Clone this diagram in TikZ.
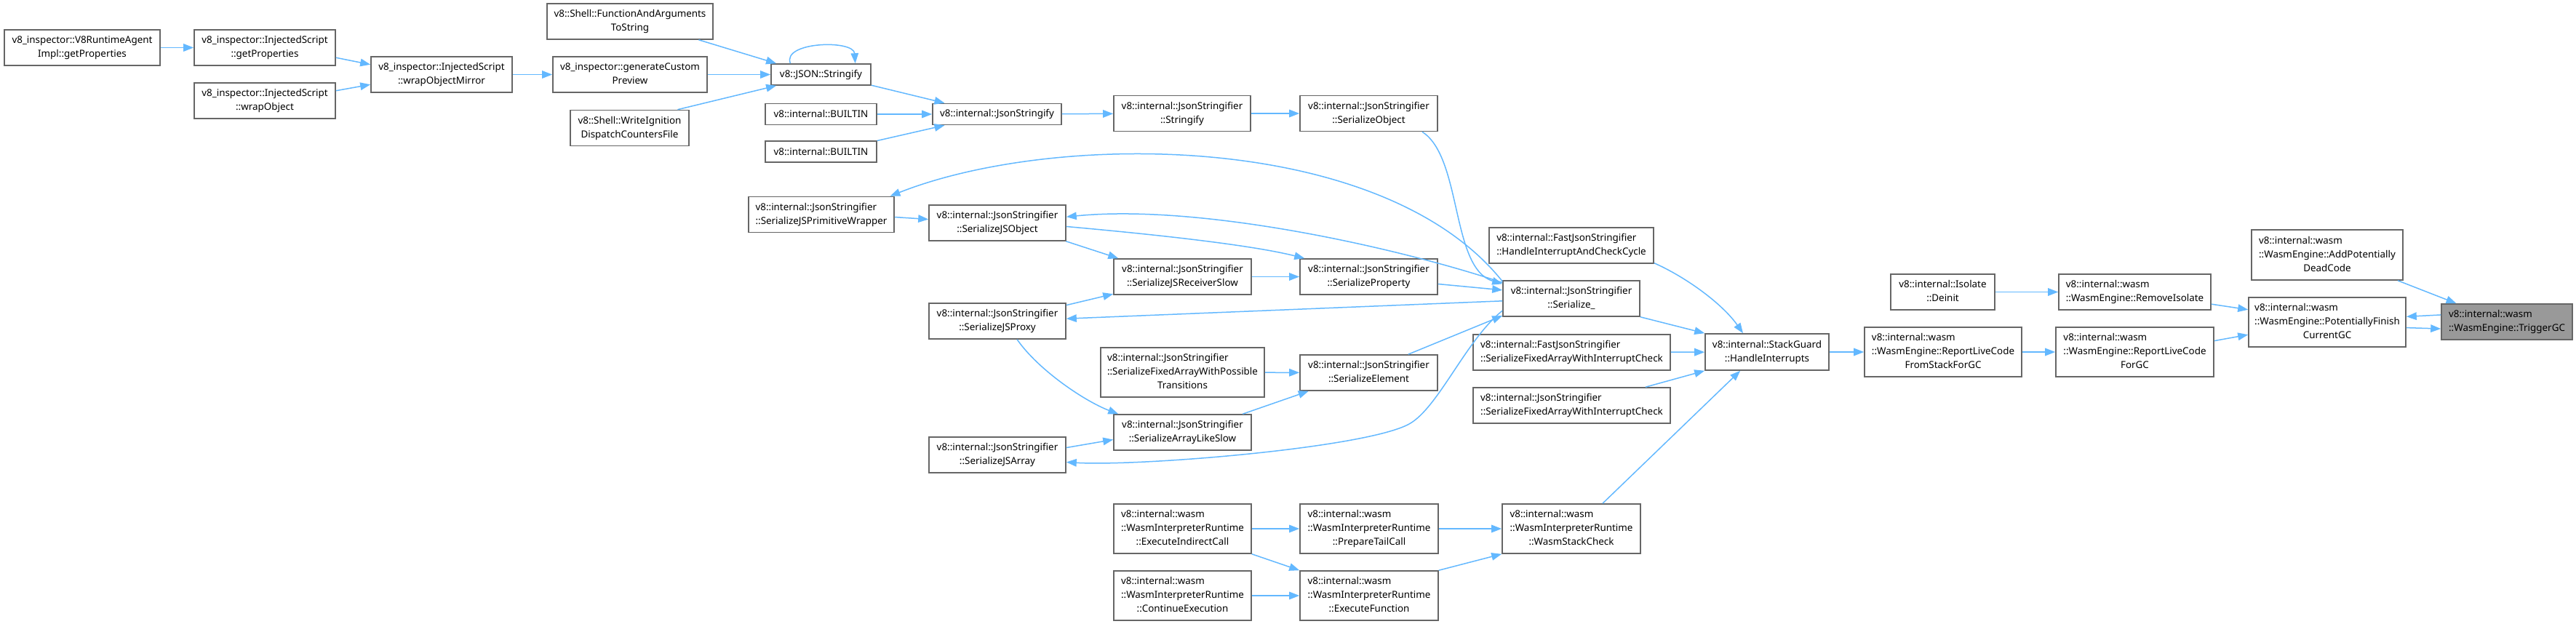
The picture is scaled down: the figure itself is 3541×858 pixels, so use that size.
\documentclass[tikz,border=0pt]{standalone}
\usepackage{fontspec}
\setmainfont{Noto Sans}
\usetikzlibrary{arrows.meta}
\definecolor{EdgeBlue}{HTML}{63B8FF}
\definecolor{BoxGray}{HTML}{666666}
\definecolor{RootGray}{HTML}{999999}
\newcommand{\twoln}[2]{\begin{tabular}{@{}l@{}}#1\\\multicolumn{1}{@{}c@{}}{#2}\end{tabular}}
\newcommand{\threeln}[3]{\begin{tabular}{@{}l@{}}#1\\#2\\\multicolumn{1}{@{}c@{}}{#3}\end{tabular}}
\tikzset{
  fn/.style 2 args={draw=BoxGray,line width=1.6pt,fill=white,inner sep=0pt,
    minimum width=#1pt,minimum height=#2pt,font=\fontsize{13.4}{19}\selectfont},
  root/.style={fill=RootGray},
  call/.style={draw=EdgeBlue,line width=1.5pt,-{Triangle[length=14pt,width=10.5pt]}}
}

\begin{document}
\begin{tikzpicture}[x=1pt,y=-1pt]
    \useasboundingbox (0,0) rectangle (3541,858);

    \node[fn={214}{49}] (rtagent) at (113,65.5) {\twoln{v8\_inspector::V8RuntimeAgent}{Impl::getProperties}};
    \node[fn={194}{49}] (isgetprop) at (364,65.5) {\twoln{v8\_inspector::InjectedScript}{::getProperties}};
    \node[fn={194}{49}] (wrapobj) at (364,138.5) {\twoln{v8\_inspector::InjectedScript}{::wrapObject}};
    \node[fn={194}{49}] (wrapmirror) at (607,102.5) {\twoln{v8\_inspector::InjectedScript}{::wrapObjectMirror}};
    \node[fn={212}{49}] (genpreview) at (866,102.5) {\twoln{v8\_inspector::generateCustom}{Preview}};
    \node[fn={228}{49}] (funcargs) at (866,29.5) {\twoln{v8::Shell::FunctionAndArguments}{ToString}};
    \node[fn={163}{49}] (writeign) at (865.5,176) {\twoln{v8::Shell::WriteIgnition}{DispatchCountersFile}};
    \node[fn={137}{29}] (jsonstr) at (1128.5,102.5) {v8::JSON::Stringify};
    \node[fn={153}{29}] (builtina) at (1128.5,157) {v8::internal::BUILTIN};
    \node[fn={153}{29}] (builtinb) at (1128.5,208.5) {v8::internal::BUILTIN};
    \node[fn={177}{29}] (jsonstringify) at (1370.5,157) {v8::internal::JsonStringify};
    \node[fn={188}{49}] (stringify) at (1625,156) {\twoln{v8::internal::JsonStringifier}{::Stringify}};
    \node[fn={189}{49}] (serobj) at (1881.5,156) {\twoln{v8::internal::JsonStringifier}{::SerializeObject}};
    \node[fn={200}{49}] (primwrap) at (1129,295) {\twoln{v8::internal::JsonStringifier}{::SerializeJSPrimitiveWrapper}};
    \node[fn={188}{49}] (serjsobj) at (1371,306.5) {\twoln{v8::internal::JsonStringifier}{::SerializeJSObject}};
    \node[fn={189}{49}] (serrecv) at (1625.5,380.5) {\twoln{v8::internal::JsonStringifier}{::SerializeJSReceiverSlow}};
    \node[fn={189}{49}] (serprop) at (1881.5,380.5) {\twoln{v8::internal::JsonStringifier}{::SerializeProperty}};
    \node[fn={188}{49}] (serialize) at (2160,410.5) {\twoln{v8::internal::JsonStringifier}{::Serialize\_}};
    \node[fn={226}{49}] (fasthandle) at (2160,337.5) {\twoln{v8::internal::FastJsonStringifier}{::HandleInterruptAndCheckCycle}};
    \node[fn={188}{49}] (serproxy) at (1371,441.5) {\twoln{v8::internal::JsonStringifier}{::SerializeJSProxy}};
    \node[fn={271}{49}] (fastfixed) at (2160.5,484.5) {\twoln{v8::internal::FastJsonStringifier}{::SerializeFixedArrayWithInterruptCheck}};
    \node[fn={170}{50}] (handleint) at (2429,484) {\twoln{v8::internal::StackGuard}{::HandleInterrupts}};
    \node[fn={225}{68}] (fixedposs) at (1625.5,512) {\threeln{v8::internal::JsonStringifier}{::SerializeFixedArrayWithPossible}{Transitions}};
    \node[fn={189}{49}] (serelem) at (1881.5,512.5) {\twoln{v8::internal::JsonStringifier}{::SerializeElement}};
    \node[fn={271}{49}] (jsfixed) at (2160.5,557.5) {\twoln{v8::internal::JsonStringifier}{::SerializeFixedArrayWithInterruptCheck}};
    \node[fn={189}{49}] (serarrlike) at (1625.5,594.5) {\twoln{v8::internal::JsonStringifier}{::SerializeArrayLikeSlow}};
    \node[fn={188}{49}] (serjsarr) at (1371,625.5) {\twoln{v8::internal::JsonStringifier}{::SerializeJSArray}};
    \node[fn={189}{68}] (execind) at (1625.5,727) {\threeln{v8::internal::wasm}{::WasmInterpreterRuntime}{::ExecuteIndirectCall}};
    \node[fn={190}{68}] (preptail) at (1882,727) {\threeln{v8::internal::wasm}{::WasmInterpreterRuntime}{::PrepareTailCall}};
    \node[fn={190}{68}] (wasmstack) at (2160,727) {\threeln{v8::internal::wasm}{::WasmInterpreterRuntime}{::WasmStackCheck}};
    \node[fn={189}{68}] (contexec) at (1625.5,819) {\threeln{v8::internal::wasm}{::WasmInterpreterRuntime}{::ContinueExecution}};
    \node[fn={190}{68}] (execfunc) at (1882,819) {\threeln{v8::internal::wasm}{::WasmInterpreterRuntime}{::ExecuteFunction}};
    \node[fn={216}{68}] (reportstack) at (2671,484) {\threeln{v8::internal::wasm}{::WasmEngine::ReportLiveCode}{FromStackForGC}};
    \node[fn={143}{49}] (deinit) at (2670.5,401.5) {\twoln{v8::internal::Isolate}{::Deinit}};
    \node[fn={209}{49}] (removeiso) at (2934.5,401.5) {\twoln{v8::internal::wasm}{::WasmEngine::RemoveIsolate}};
    \node[fn={217}{68}] (reportgc) at (2934.5,484) {\threeln{v8::internal::wasm}{::WasmEngine::ReportLiveCode}{ForGC}};
    \node[fn={216}{68}] (potfinish) at (3199,443) {\threeln{v8::internal::wasm}{::WasmEngine::PotentiallyFinish}{CurrentGC}};
    \node[fn={208}{69}] (adddead) at (3199,350.5) {\threeln{v8::internal::wasm}{::WasmEngine::AddPotentially}{DeadCode}};
    \node[fn={180}{49},root] (triggergc) at (3446,442.5) {\twoln{v8::internal::wasm}{::WasmEngine::TriggerGC}};

    \draw[call] (rtagent) -- (isgetprop);
    \draw[call] (isgetprop.-8.5) -- (wrapmirror.172.7);
    \draw[call] (wrapobj.8.8) -- (wrapmirror.-172.4);
    \draw[call] (wrapmirror) -- (genpreview);
    \draw[call] (funcargs.-15.2) -- (jsonstr.166.5);
    \draw[call] (genpreview) -- (jsonstr);
    \draw[call] (writeign.21.3) -- (jsonstr.-166.5);
    \draw[call] (jsonstr.160.7) .. controls +(-12,-30) and +(-2,-33) .. (jsonstr.18.4);
    \draw[call] (jsonstr.-12.7) -- (jsonstringify.168);
    \draw[call] (builtina) -- (jsonstringify);
    \draw[call] (builtinb.11.5) -- (jsonstringify.-168);
    \draw[call] (jsonstringify) -- (stringify);
    \draw[call] (stringify) -- (serobj);
    \draw[call] (serobj.-19.3) .. controls +(55,35) and +(-71,-21) .. (serialize.168.3);
    \draw[call] (serialize.166.5) .. controls (1900,180) and (1450,180) .. (primwrap.15.6);
    \draw[call] (primwrap.-2.9) -- (serjsobj.177.3);
    \draw[call] (serialize.167) .. controls (1920,340) and (1650,280) .. (serjsobj.5.7);
    \draw[call] (serjsobj.-15.7) -- (serrecv.164.7);
    \draw[call] (serjsobj.-3.9) .. controls +(100,9) and +(-80,-20) .. (serprop.164);
    \draw[call] (serrecv) -- (serprop);
    \draw[call] (serprop.-6.9) -- (serialize.173.6);
    \draw[call] (serialize.-178) -- (serproxy.2.7);
    \draw[call] (serproxy.13.9) -- (serrecv.-166.6);
    \draw[call] (serproxy.-43.3) .. controls +(30,43) and +(-45,-17) .. (serarrlike.164.7);
    \draw[call] (fixedposs) -- (serelem);
    \draw[call] (serarrlike.17.1) -- (serelem.-163);
    \draw[call] (serelem.25.4) -- (serialize.-166);
    \draw[call] (serialize.-170.6) .. controls +(-50,40) and +(40,-22) .. (1937,583)
      .. controls +(-60,33) and +(100,6) .. (serjsarr.-6.9);
    \draw[call] (serjsarr.6.9) -- (serarrlike.-174.9);
    \draw[call] (serialize.south east) -- (handleint.north west);
    \draw[call] (fasthandle.-12.8) .. controls +(45,20) and +(-28,-40) .. (handleint.142);
    \draw[call] (fastfixed) -- (handleint);
    \draw[call] (jsfixed.14.7) -- (handleint.south west);
    \draw[call] (wasmstack.39.7) -- (handleint.-145);
    \draw[call] (execind) -- (preptail);
    \draw[call] (preptail) -- (wasmstack);
    \draw[call] (execind.south east) -- (execfunc.north west);
    \draw[call] (contexec) -- (execfunc);
    \draw[call] (execfunc.north east) -- (wasmstack.south west);
    \draw[call] (handleint) -- (reportstack);
    \draw[call] (deinit) -- (removeiso);
    \draw[call] (reportstack) -- (reportgc);
    \draw[call] (removeiso.-9) -- (potfinish.171.6);
    \draw[call] (reportgc.8.9) -- (potfinish.-171.6);
    \draw[call] (adddead.-20.4) -- (triggergc.160.7);
    \draw[call] (triggergc.174.6) -- (potfinish.4.8);
    \draw[call] (potfinish.-4.8) -- (triggergc.-174);
  \end{tikzpicture}
\end{document}
